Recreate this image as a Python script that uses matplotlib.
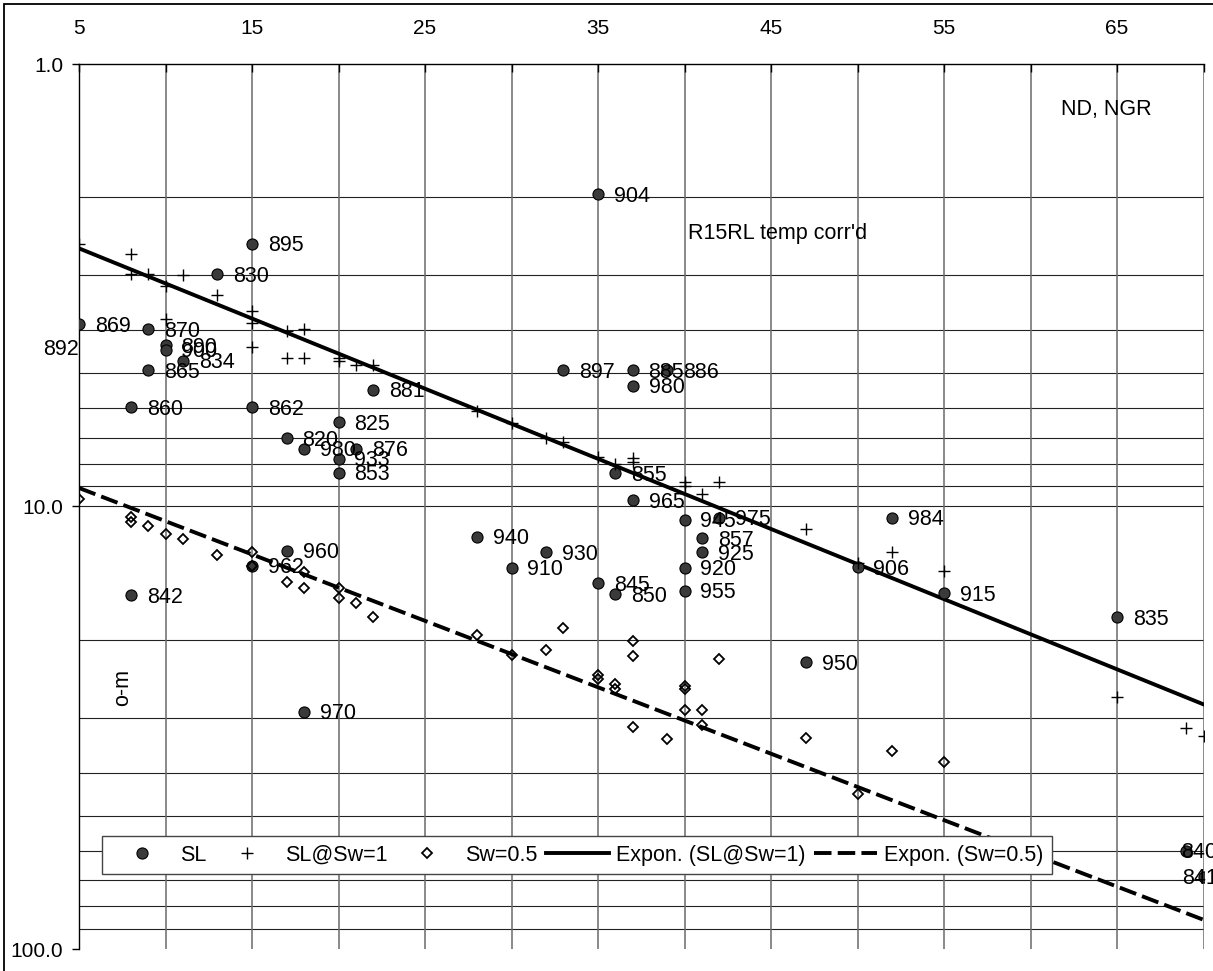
import matplotlib
matplotlib.use('Agg')
import matplotlib.pyplot as plt
from matplotlib.ticker import FixedLocator, FixedFormatter, NullFormatter

plt.rcParams['font.family'] = ['Liberation Sans', 'DejaVu Sans']

# SL points with their sample labels (892 sits left of the axis range)
sl_labels = ['895', '830', '869', '870', '890', '900', '834', '865', '860', '862',
             '825', '820', '980', '876', '933', '853', '881', '904', '897', '885',
             '886', '980', '855', '965', '945', '975', '857', '925', '920', '955',
             '940', '930', '910', '845', '850', '950', '984', '906', '915', '835',
             '960', '962', '842', '970', '840', '841', '892']
sl_x = [15, 13, 5, 9, 10, 10, 11, 9, 8, 15,
        20, 17, 18, 21, 20, 20, 22, 35, 33, 37,
        39, 37, 36, 37, 40, 42, 41, 41, 40, 40,
        28, 32, 30, 35, 36, 47, 52, 50, 55, 65,
        17, 15, 8, 18, 69, 70, 2]
sl_y = [2.55, 2.99, 3.87, 3.97, 4.32, 4.42, 4.68, 4.92, 5.96, 5.96,
        6.45, 7.0, 7.41, 7.41, 7.8, 8.39, 5.44, 1.97, 4.92, 4.92,
        4.92, 5.33, 8.42, 9.69, 10.7, 10.6, 11.8, 12.7, 13.75, 15.5,
        11.7, 12.7, 13.75, 14.9, 15.8, 22.5, 10.6, 13.7, 15.7, 17.8,
        12.6, 13.6, 15.85, 29.1, 60.0, 68.6, 4.38]

# SL@Sw=1
sw1_x = [5, 8, 8, 9, 11, 10, 13, 15, 15, 10, 15, 17, 18, 17, 18, 20, 20, 21, 22,
         28, 30, 32, 33, 35, 36, 37, 37, 40, 40, 41, 42, 47, 50, 52, 55, 65, 69, 70]
sw1_y = [2.55, 2.69, 2.98, 2.98, 3.0, 3.18, 3.32, 3.62, 3.84, 3.77, 4.35, 4.02, 3.97,
         4.62, 4.62, 4.62, 4.7, 4.8, 4.8,
         6.09, 6.47, 7.0, 7.16, 7.74, 8.03, 7.77, 7.93, 8.81, 9.0, 9.35, 8.8,
         11.27, 13.4, 12.7, 14.0, 26.9, 31.6, 33.0]

# Sw=0.5
sw05_x = [5, 8, 8, 9, 10, 11, 13, 15, 15, 17, 18, 18, 20, 20, 21, 22,
          28, 30, 32, 33, 35, 35, 36, 36, 37, 37, 37, 39, 40, 40, 40, 41, 41, 42,
          47, 50, 52, 55]
sw05_y = [9.64, 10.55, 10.85, 11.08, 11.53, 11.87, 12.9, 12.7, 13.6, 14.8, 14.07, 15.26,
          15.3, 16.1, 16.5, 17.74,
          19.5, 21.7, 21.1, 18.8, 24.0, 24.5, 25.2, 25.9, 20.1, 21.8, 31.5, 33.6,
          25.4, 25.8, 28.9, 28.9, 31.1, 22.1,
          33.4, 44.7, 35.7, 37.8]

# exponential trendlines, end values
trend_x = [5, 70]
trend_sw1 = [2.61, 28.0]
trend_sw05 = [9.08, 85.9]

x_ticks = list(range(5, 71, 5))
x_ticklabels = [str(v) if (v - 5) % 10 == 0 else '' for v in x_ticks]
y_ticks = [1, 10, 100]
y_ticklabels = ['1.0', '10.0', '100.0']
y_grid = [2, 3, 4, 5, 6, 7, 8, 9, 10, 20, 30, 40, 50, 60, 70, 80, 90]

W, H = 1213, 971
fig = plt.figure(figsize=(W / 100, H / 100), dpi=100)
ax = fig.add_axes([79 / W, 1 - 949 / H, 1124.5 / W, 885 / H])

ax.set_yscale('log')
ax.set_xlim(5, 70)
ax.set_ylim(100, 1)

for v in y_grid:
    ax.axhline(v, color='#222222', lw=0.8, zorder=1)
for v in x_ticks[1:]:
    ax.axvline(v, color='#6a6a6a', lw=1.1, zorder=1)

ax.plot(trend_x, trend_sw1, '-', color='black', lw=2.8, label='Expon. (SL@Sw=1)', zorder=3)
ax.plot(trend_x, trend_sw05, color='black', lw=2.8, dashes=(4.5, 1.6),
        label='Expon. (Sw=0.5)', zorder=3)
h_sl, = ax.plot(sl_x, sl_y, 'o', ms=8, mfc='#3a3a3a', mec='black', mew=0.8,
                label='SL', zorder=4)
h_sw1, = ax.plot(sw1_x, sw1_y, '+', ms=8.5, mec='black', mew=1.0, label='SL@Sw=1', zorder=4)
h_sw05, = ax.plot(sw05_x, sw05_y, 'D', ms=5.4, mfc='none', mec='black', mew=1.3,
                  label='Sw=0.5', zorder=5)

# labels pushed back inside the chart area by Excel
label_shift = {'840': -15.0, '841': -27.0}
for x, y, t in zip(sl_x, sl_y, sl_labels):
    dx = 11.5 + label_shift.get(t, 0)
    ax.annotate(t, (x, y), xytext=(dx, -1.5), textcoords='offset points',
                ha='left', va='center', fontsize=15.5, annotation_clip=False, zorder=6)

ax.text(40.2, 2.41, "R15RL temp corr'd", fontsize=15.5, va='center')
ax.text(61.75, 1.27, 'ND, NGR', fontsize=15.5, va='center')
ax.text(7.54, 25.6, 'o-m', rotation=90, fontsize=15.5, ha='center', va='center')

ax.xaxis.tick_top()
ax.xaxis.set_major_locator(FixedLocator(x_ticks))
ax.xaxis.set_major_formatter(FixedFormatter(x_ticklabels))
ax.yaxis.set_major_locator(FixedLocator(y_ticks))
ax.yaxis.set_major_formatter(FixedFormatter(y_ticklabels))
ax.yaxis.set_minor_locator(FixedLocator(y_grid))
ax.yaxis.set_minor_formatter(NullFormatter())
ax.tick_params(axis='x', direction='in', length=5.8, width=1, pad=19, labelsize=15)
ax.tick_params(axis='y', which='major', direction='out', length=5, width=1, pad=6.5, labelsize=15)
ax.tick_params(axis='y', which='minor', length=0)

for s in ['right', 'bottom']:
    ax.spines[s].set_visible(False)
for s in ['top', 'left']:
    ax.spines[s].set_color('black')
    ax.spines[s].set_linewidth(1.0)

handles = [h_sl, h_sw1, h_sw05] + ax.get_lines()[len(y_grid) + len(x_ticks) - 1:][:2]
leg = ax.legend(handles=handles, ncol=5, loc='upper left', bbox_to_anchor=(0.0205, 0.1277),
                borderaxespad=0, fontsize=15.5, handlelength=2.93, handletextpad=0.3,
                columnspacing=0.4, borderpad=0.4, numpoints=1, fancybox=False,
                framealpha=1, edgecolor='#444444')
leg.get_frame().set_linewidth(1.0)
leg.set_zorder(10)

fig.add_artist(plt.Rectangle((4 / W, -0.1), 1.2, 1.1 - 4 / H, transform=fig.transFigure,
                             fill=False, ec='black', lw=1.3))

fig.savefig('out.png', dpi=100)
